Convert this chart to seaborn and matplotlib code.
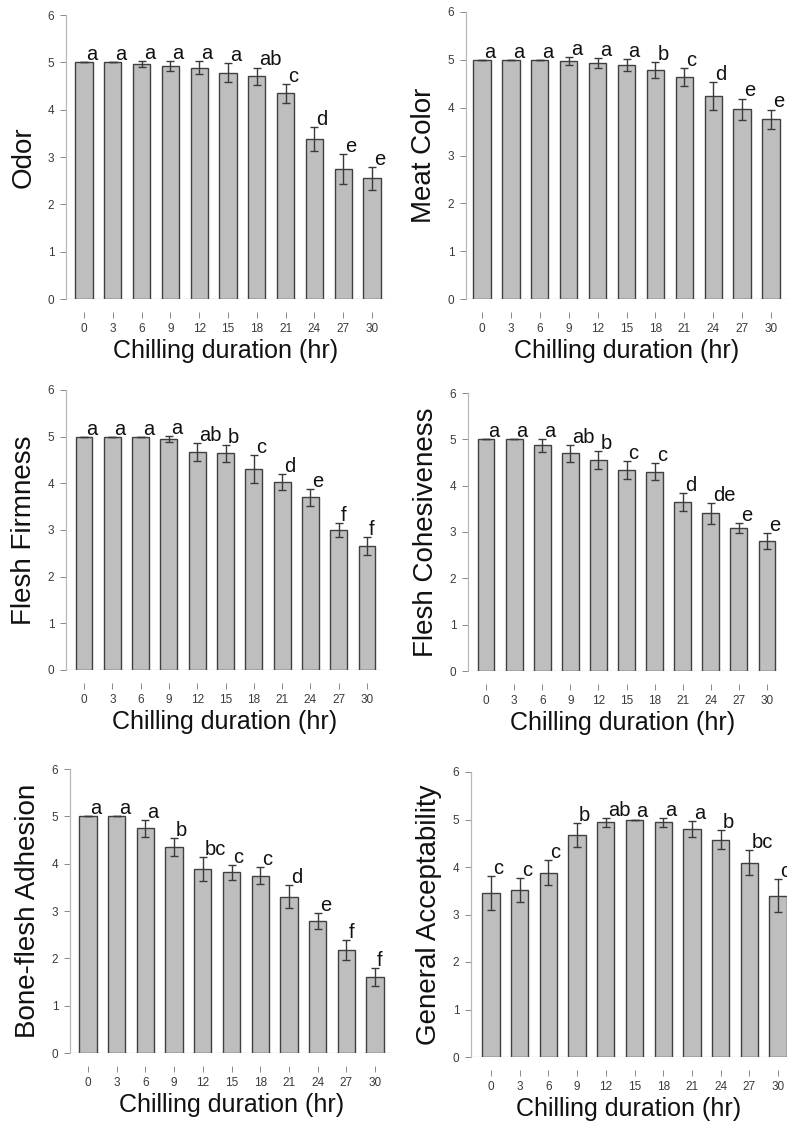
import numpy as np
import pandas as pd
import matplotlib
matplotlib.use("Agg")
import matplotlib.pyplot as plt
import seaborn as sns

sns.set_style("white")
plt.rcParams['font.family'] = ['Liberation Sans', 'DejaVu Sans']

hours = [0, 3, 6, 9, 12, 15, 18, 21, 24, 27, 30]

odor = [5.0, 5.0, 4.96, 4.92, 4.89, 4.78, 4.71, 4.35, 3.38, 2.74, 2.55]
odor_err = [0, 0, 0.06, 0.10, 0.13, 0.20, 0.18, 0.20, 0.26, 0.32, 0.24]
odor_let = ['a', 'a', 'a', 'a', 'a', 'a', 'ab', 'c', 'd', 'e', 'e']

meat = [5.0, 5.0, 5.0, 4.97, 4.93, 4.89, 4.79, 4.64, 4.25, 3.97, 3.76]
meat_err = [0, 0, 0, 0.08, 0.10, 0.12, 0.16, 0.18, 0.29, 0.22, 0.20]
meat_let = ['a', 'a', 'a', 'a', 'a', 'a', 'b', 'c', 'd', 'e', 'e']

firm = [5.0, 5.0, 5.0, 4.95, 4.67, 4.64, 4.31, 4.02, 3.70, 2.99, 2.66]
firm_err = [0, 0, 0, 0.07, 0.19, 0.19, 0.30, 0.17, 0.18, 0.15, 0.19]
firm_let = ['a', 'a', 'a', 'a', 'ab', 'b', 'c', 'd', 'e', 'f', 'f']

cohes = [5.0, 5.0, 4.87, 4.70, 4.55, 4.34, 4.30, 3.65, 3.40, 3.09, 2.80]
cohes_err = [0, 0, 0.14, 0.18, 0.20, 0.19, 0.18, 0.19, 0.23, 0.11, 0.17]
cohes_let = ['a', 'a', 'a', 'ab', 'b', 'c', 'c', 'd', 'de', 'e', 'e']

adhes = [5.0, 5.0, 4.75, 4.36, 3.89, 3.82, 3.75, 3.30, 2.79, 2.18, 1.61]
adhes_err = [0, 0, 0.18, 0.19, 0.25, 0.16, 0.17, 0.24, 0.17, 0.21, 0.19]
adhes_let = ['a', 'a', 'a', 'b', 'bc', 'c', 'c', 'd', 'e', 'f', 'f']

accept = [3.45, 3.52, 3.88, 4.67, 4.94, 5.0, 4.94, 4.80, 4.57, 4.09, 3.40]
accept_err = [0.36, 0.25, 0.26, 0.25, 0.10, 0, 0.10, 0.17, 0.20, 0.26, 0.34]
accept_let = ['c', 'c', 'c', 'b', 'ab', 'a', 'a', 'a', 'b', 'bc', 'c']

W, H = 787, 1129
# (label, values, errors, letters, left, right, y6, y0, c0, c10) in pixels
panels = [
    ("Odor", odor, odor_err, odor_let, 66, 386, 15, 299, 84, 372),
    ("Meat Color", meat, meat_err, meat_let, 466, 787, 12, 299, 482, 771),
    ("Flesh Firmness", firm, firm_err, firm_let, 66, 383, 390, 670, 84, 367),
    ("Flesh Cohesiveness", cohes, cohes_err, cohes_let, 468, 777, 393, 671, 486, 767),
    ("Bone-flesh Adhesion", adhes, adhes_err, adhes_let, 70, 393, 769, 1053, 88, 375),
    ("General Acceptability", accept, accept_err, accept_let, 471, 787, 772, 1057, 491, 778),
]

fig = plt.figure(figsize=(W / 100, H / 100), dpi=100)
grey_axis = '#b8b8b8'

for label, vals, errs, lets, L, R, y6, y0, c0, c10 in panels:
    ax = fig.add_axes([L / W, 1 - y0 / H, (R - L) / W, (y0 - y6) / H])
    df = pd.DataFrame({"hour": hours, "value": vals})
    sns.barplot(data=df, x="hour", y="value", color='#bebebe', saturation=1,
                edgecolor='#404040', linewidth=1.0, width=0.6, errorbar=None, ax=ax)
    xs = [p.get_x() + p.get_width() / 2 for p in ax.patches]
    ax.errorbar(xs, vals, yerr=errs, fmt='none', ecolor='#3a3a3a',
                elinewidth=1.0, capsize=3, capthick=1.0)
    # significance letters (the last one runs off the figure edge, as in the source)
    for x, v, e, t in zip(xs, vals, errs, lets):
        ax.annotate(t, (x, v + e), xytext=(1.5, 1.5), textcoords='offset points',
                    ha='left', va='baseline', fontsize=14.5, color='#111111',
                    annotation_clip=False)

    sp = (c10 - c0) / 10
    ax.set_xlim((L - c0) / sp, (R - c0) / sp)
    ax.set_ylim(0, 6)
    ax.set_yticks(range(7))

    sns.despine(ax=ax, top=True, right=True)
    ax.spines['left'].set_color(grey_axis)
    ax.spines['left'].set_linewidth(0.9)
    ax.spines['bottom'].set_position(('outward', 9.5))
    ax.spines['bottom'].set_visible(False)
    ax.axhline(0, color=grey_axis, lw=0.9, zorder=0.5)

    ax.tick_params(axis='x', length=4.5, width=0.7, color='#888888', pad=3,
                   labelsize=8.5, labelcolor='#3a3a3a', bottom=True)
    ax.tick_params(axis='y', length=4.5, width=0.7, color='#888888', pad=4,
                   labelsize=8.5, labelcolor='#3a3a3a', left=True)

    ax.set_ylabel(label, fontsize=20, color='#111111')
    ax.yaxis.set_label_coords(-29 / (R - L), 0.5)
    ax.set_xlabel("Chilling duration (hr)", fontsize=18, color='#111111')
    ax.xaxis.set_label_coords(0.5, -40 / (y0 - y6))

fig.savefig("out.png", dpi=100)
